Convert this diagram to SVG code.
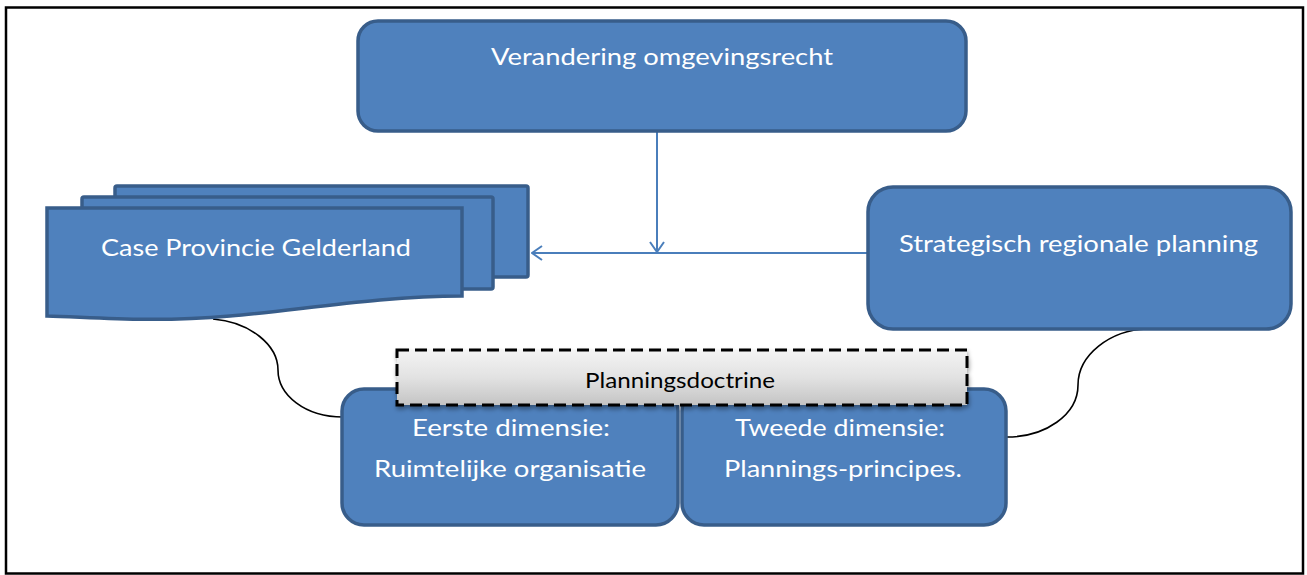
<svg xmlns="http://www.w3.org/2000/svg" width="1307" height="575" viewBox="0 0 1307 575">
<style>
.box{fill:#4F81BD;stroke:#385D8A;stroke-width:3.5}
.wt{fill:#FFFFFF;font-family:Lato,"Liberation Sans",Arial,sans-serif;font-size:23px;text-anchor:middle}
.bt{fill:#000000;font-family:Lato,"Liberation Sans",Arial,sans-serif;font-size:22px;text-anchor:middle}
.conn{fill:none;stroke:#4A7EBB;stroke-width:2}
.curve{fill:none;stroke:#000000;stroke-width:1.6}
</style>
<defs>
<marker id="arr" viewBox="0 0 12 16" refX="11" refY="8" markerWidth="12" markerHeight="16" markerUnits="userSpaceOnUse" orient="auto">
<path d="M1,1 L11,8 L1,15" fill="none" stroke="#4A7EBB" stroke-width="2"/>
</marker>
<linearGradient id="grey" x1="0" y1="0" x2="0" y2="1">
<stop offset="0" stop-color="#F4F4F4"/>
<stop offset="0.5" stop-color="#E2E2E2"/>
<stop offset="1" stop-color="#C4C4C4"/>
</linearGradient>
<filter id="sh" x="-5%" y="-20%" width="110%" height="150%">
<feDropShadow dx="1" dy="3" stdDeviation="2" flood-color="#000" flood-opacity="0.35"/>
</filter>
</defs>
<rect x="6" y="7.5" width="1297" height="566" fill="#FFFFFF" stroke="#000000" stroke-width="2.5"/>

<g id="connectors">
<line class="conn" x1="657" y1="132" x2="657" y2="252" marker-end="url(#arr)"/>
<line class="conn" x1="868" y1="253" x2="532" y2="253" marker-end="url(#arr)"/>
<path class="curve" d="M213,319 C250,322 278,345 278,370 C278,395 305,417 343,417"/>
<path class="curve" d="M1147,329 C1110,330 1078,355 1078,385 C1078,415 1045,437 1007,437"/>
</g>

<g id="verandering">
<rect class="box" x="358" y="21" width="608" height="110" rx="20"/>
<text class="wt" x="662" y="65" textLength="342" lengthAdjust="spacingAndGlyphs">Verandering omgevingsrecht</text>
</g>

<g id="case">
<rect class="box" x="115" y="186" width="413" height="91" rx="2"/>
<rect class="box" x="82" y="197" width="411" height="92" rx="2"/>
<path class="box" d="M47,208 H462 V296 C380,296 300,310 230,316 C150,323 90,317 47,316 Z"/>
<text class="wt" x="256" y="256" textLength="310" lengthAdjust="spacingAndGlyphs">Case Provincie Gelderland</text>
</g>

<g id="strategisch">
<rect class="box" x="868" y="187" width="423" height="142" rx="25"/>
<text class="wt" x="1078.5" y="252" textLength="359" lengthAdjust="spacingAndGlyphs">Strategisch regionale planning</text>
</g>

<g id="eerste">
<rect class="box" x="342" y="389" width="336" height="136" rx="22"/>
<text class="wt" x="511" y="436" textLength="198" lengthAdjust="spacingAndGlyphs">Eerste dimensie:</text>
<text class="wt" x="510" y="477" textLength="272" lengthAdjust="spacingAndGlyphs">Ruimtelijke organisatie</text>
</g>

<g id="tweede">
<rect class="box" x="682" y="389" width="324" height="136" rx="22"/>
<text class="wt" x="840" y="436" textLength="210" lengthAdjust="spacingAndGlyphs">Tweede dimensie:</text>
<text class="wt" x="843" y="477" textLength="238" lengthAdjust="spacingAndGlyphs">Plannings-principes.</text>
</g>

<g id="planningsdoctrine">
<rect x="397" y="350" width="570" height="55" fill="url(#grey)" stroke="#000000" stroke-width="3" stroke-dasharray="12,6" filter="url(#sh)"/>
<text class="bt" x="680" y="388" textLength="190" lengthAdjust="spacingAndGlyphs">Planningsdoctrine</text>
</g>
</svg>
